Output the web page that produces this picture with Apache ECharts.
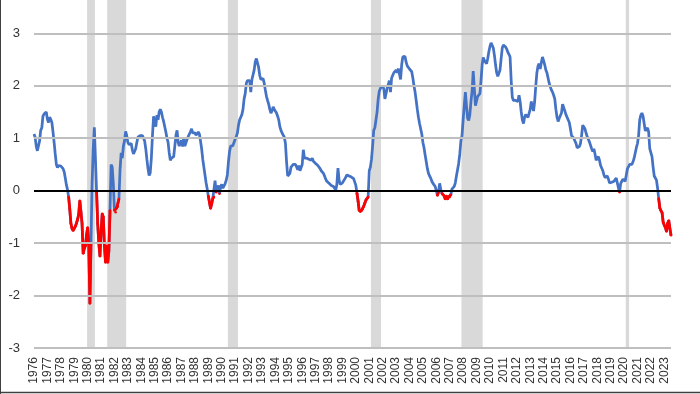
<!DOCTYPE html>
<html><head><meta charset="utf-8">
<script src="https://cdn.jsdelivr.net/npm/echarts@6/dist/echarts.min.js"></script>
<style>html,body{margin:0;padding:0;background:#fff}#c{width:700px;height:394px}</style>
</head><body><div id="c"></div>
<script>
const startYear = 1976;
// Monthly spread values, Jan 1976 onward
const spread1976_1985 = [
  1.08, 1.02, 0.85, 0.76, 0.78, 0.95, 1.15, 1.20, 1.42, 1.46, 1.48, 1.50,
  1.36, 1.30, 1.40, 1.36, 1.30, 1.12, 0.92, 0.70, 0.50, 0.44, 0.48, 0.49,
  0.47, 0.45, 0.42, 0.36, 0.24, 0.11, 0.02, -0.12, -0.35, -0.62, -0.72, -0.76,
  -0.72, -0.68, -0.62, -0.55, -0.45, -0.19, -0.40, -0.63, -1.20, -1.10, -1.05, -0.85,
  -0.70, -1.02, -2.15, -1.00, 0.15, 0.80, 1.21, 0.60, -0.02, -0.63, -1.00, -1.25,
  -0.80, -0.44, -0.50, -1.05, -1.37, -1.05, -1.37, -1.15, -0.38, 0.50, 0.45, 0.12,
  -0.38, -0.41, -0.33, -0.30, -0.16, 0.40, 0.72, 0.62, 0.85, 0.95, 1.13, 1.05,
  0.92, 0.88, 0.85, 0.90, 0.78, 0.70, 0.72, 0.80, 0.92, 1.02, 1.04, 1.05,
  1.06, 1.05, 1.00, 0.95, 0.80, 0.60, 0.42, 0.29, 0.34, 0.62, 1.05, 1.42,
  1.40, 1.22, 1.44, 1.35, 1.50, 1.55, 1.50, 1.40, 1.32, 1.22, 1.12, 1.00
];
const spread1986_1995 = [
  0.92, 0.72, 0.58, 0.62, 0.62, 0.65, 0.66, 1.05, 1.15, 0.92, 0.85, 0.84,
  0.96, 0.84, 1.02, 0.85, 0.86, 0.98, 1.00, 1.08, 1.12, 1.18, 1.10, 1.12,
  1.10, 1.06, 1.04, 1.12, 1.08, 0.95, 0.80, 0.60, 0.45, 0.30, 0.15, 0.03,
  -0.10, -0.22, -0.34, -0.25, -0.15, -0.12, 0.19, -0.03, 0.05, 0.10, -0.06, 0.08,
  0.12, 0.05, 0.02, 0.13, 0.20, 0.30, 0.55, 0.75, 0.85, 0.84, 0.86, 0.88,
  0.98, 1.03, 1.10, 1.25, 1.35, 1.40, 1.45, 1.55, 1.75, 1.85, 2.05, 2.10,
  2.12, 2.10, 1.88, 2.12, 2.15, 2.30, 2.46, 2.52, 2.50, 2.35, 2.20, 2.12,
  2.12, 2.14, 2.05, 1.92, 1.80, 1.72, 1.65, 1.55, 1.48, 1.52, 1.60, 1.55,
  1.55, 1.48, 1.42, 1.35, 1.22, 1.15, 1.10, 1.06, 1.02, 0.90, 0.55, 0.28,
  0.25, 0.33, 0.45, 0.48, 0.50, 0.52, 0.50, 0.45, 0.40, 0.48, 0.38, 0.40
];
const spread1996_2005 = [
  0.50, 0.78, 0.62, 0.64, 0.62, 0.65, 0.60, 0.62, 0.58, 0.62, 0.56, 0.55,
  0.52, 0.50, 0.48, 0.45, 0.42, 0.38, 0.35, 0.33, 0.28, 0.22, 0.18, 0.15,
  0.14, 0.12, 0.10, 0.10, 0.08, 0.05, 0.01, 0.12, 0.43, 0.20, 0.12, 0.15,
  0.15, 0.18, 0.22, 0.26, 0.30, 0.30, 0.28, 0.27, 0.26, 0.25, 0.23, 0.20,
  0.10, -0.05, -0.20, -0.38, -0.40, -0.38, -0.35, -0.30, -0.24, -0.18, -0.15, -0.12,
  0.38, 0.45, 0.60, 0.85, 1.15, 1.20, 1.22, 1.50, 1.75, 1.90, 1.95, 2.00,
  2.00, 1.95, 1.75, 1.85, 1.95, 1.98, 2.10, 1.88, 2.15, 2.20, 2.25, 2.28,
  2.30, 2.25, 2.33, 2.30, 2.12, 2.40, 2.55, 2.58, 2.56, 2.45, 2.38, 2.35,
  2.32, 2.30, 2.27, 2.15, 2.00, 1.88, 1.72, 1.55, 1.40, 1.28, 1.18, 1.08,
  0.92, 0.82, 0.68, 0.55, 0.42, 0.33, 0.28, 0.24, 0.18, 0.14, 0.11, 0.08
];
const spread2006_2015 = [
  0.05, -0.09, -0.02, 0.14, 0.02, -0.05, -0.08, -0.10, -0.16, -0.10, -0.16, -0.12,
  -0.12, -0.08, 0.03, 0.05, 0.08, 0.15, 0.28, 0.40, 0.52, 0.70, 0.95, 1.05,
  1.35, 1.62, 1.88, 1.62, 1.38, 1.34, 1.45, 1.70, 1.90, 2.28, 1.95, 1.62,
  1.65, 1.80, 1.82, 1.85, 2.10, 2.40, 2.54, 2.48, 2.45, 2.42, 2.52, 2.65,
  2.75, 2.82, 2.80, 2.72, 2.58, 2.40, 2.25, 2.18, 2.16, 2.30, 2.52, 2.72,
  2.78, 2.80, 2.74, 2.70, 2.64, 2.60, 2.55, 2.10, 1.78, 1.72, 1.75, 1.72,
  1.72, 1.70, 1.82, 1.70, 1.50, 1.35, 1.28, 1.40, 1.45, 1.48, 1.40, 1.40,
  1.55, 1.70, 1.60, 1.52, 1.70, 2.00, 2.25, 2.38, 2.42, 2.32, 2.45, 2.55,
  2.48, 2.40, 2.30, 2.25, 2.15, 2.05, 1.98, 1.92, 1.88, 1.82, 1.75, 1.55,
  1.40, 1.32, 1.38, 1.40, 1.48, 1.65, 1.68, 1.52, 1.45, 1.40, 1.38, 1.30
];
const spread2016_2023 = [
  1.18, 1.05, 1.02, 1.00, 0.97, 0.90, 0.82, 0.80, 0.84, 0.90, 1.05, 1.25,
  1.27, 1.18, 1.10, 1.03, 0.98, 0.93, 0.90, 0.80, 0.75, 0.80, 0.70, 0.58,
  0.58, 0.65, 0.58, 0.48, 0.45, 0.38, 0.30, 0.25, 0.22, 0.28, 0.22, 0.15,
  0.17, 0.16, 0.16, 0.18, 0.20, 0.24, 0.25, 0.05, -0.03, 0.14, 0.18, 0.22,
  0.20, 0.18, 0.30, 0.42, 0.46, 0.50, 0.52, 0.50, 0.55, 0.62, 0.72, 0.82,
  0.90, 1.05, 1.35, 1.44, 1.48, 1.42, 1.28, 1.14, 1.16, 1.20, 1.12, 0.80,
  0.80, 0.65, 0.45, 0.28, 0.26, 0.20, 0.05, -0.15, -0.33, -0.38, -0.42, -0.60,
  -0.66, -0.70, -0.78, -0.62, -0.57, -0.72, -0.85
];
const spread = [].concat(spread1976_1985, spread1986_1995, spread1996_2005, spread2006_2015, spread2016_2023);

const recessionStart = ['1980-01', '1981-07', '1990-07', '2001-03', '2007-12', '2020-03'];
const recessionEnd   = ['1980-07', '1982-11', '1991-03', '2001-11', '2009-06', '2020-05'];
const yTicks = [-3, -2, -1, 0, 1, 2, 3];
const yMin = -3, yMax = 3.636, yStep = 1;

function monthIndex(s) { const p = s.split('-').map(Number); return (p[0] - startYear) * 12 + p[1] - 1; }
const points = spread.map((v, i) => [i, v]);
const negPoints = spread.map((v, i) => [i, v < 0 ? v : '-']);
const recessionAreas = recessionStart.map((s, k) => [
  { xAxis: monthIndex(s) - 0.5 }, { xAxis: monthIndex(recessionEnd[k]) + 0.5 }
]);
const gridLines = yTicks.filter(v => v !== 0).map(v => ({ yAxis: v }));

const chart = echarts.init(document.getElementById('c'), null, { renderer: 'canvas' });
chart.setOption({
  animation: false,
  grid: { left: 34, right: 29, top: 0, bottom: 46 },
  xAxis: {
    type: 'value', min: 0, max: spread.length - 1, interval: 12,
    axisLine: { show: false }, axisTick: { show: false }, splitLine: { show: false },
    axisLabel: {
      rotate: 90, margin: 9, fontSize: 12, color: '#333', fontFamily: 'Liberation Sans',
      showMaxLabel: false, showMinLabel: true,
      formatter: v => (v % 12 === 0 ? String(startYear + v / 12) : '')
    }
  },
  yAxis: {
    type: 'value', min: yMin, max: yMax, interval: yStep,
    axisLine: { show: false }, axisTick: { show: false }, splitLine: { show: false },
    axisLabel: {
      margin: 14, fontSize: 13, color: '#333', fontFamily: 'Liberation Sans', showMaxLabel: false,
      formatter: v => (Number.isInteger(v) ? String(v) : '')
    }
  },
  graphic: [
    { type: 'line', shape: { x1: 0.5, y1: 0, x2: 0.5, y2: 394 }, style: { stroke: '#404040', lineWidth: 1 } },
    { type: 'line', shape: { x1: 0, y1: 392.5, x2: 700, y2: 392.5 }, style: { stroke: '#404040', lineWidth: 1.5 } }
  ],
  series: [
    {
      type: 'line', data: [], z: 1, symbol: 'none',
      markLine: {
        symbol: ['none', 'none'], label: { show: false },
        lineStyle: { color: '#bfbfbf', width: 2, type: 'solid' }, data: gridLines
      }
    },
    {
      type: 'line', data: [], z: 2, silent: true, symbol: 'none',
      markArea: { silent: true, itemStyle: { color: '#d9d9d9' }, data: recessionAreas },
      markLine: {
        silent: true, symbol: ['none', 'none'], label: { show: false },
        lineStyle: { color: '#000', width: 2, type: 'solid' }, data: [{ yAxis: 0 }]
      }
    },
    { type: 'line', data: points, z: 3, symbol: 'none', lineStyle: { color: '#4472C4', width: 2.75 } },
    {
      type: 'line', data: negPoints, z: 4, symbol: 'circle', symbolSize: 2.5, showAllSymbol: true,
      itemStyle: { color: '#FF0000' }, lineStyle: { color: '#FF0000', width: 2.75 }, connectNulls: false
    }
  ]
});
</script></body></html>
